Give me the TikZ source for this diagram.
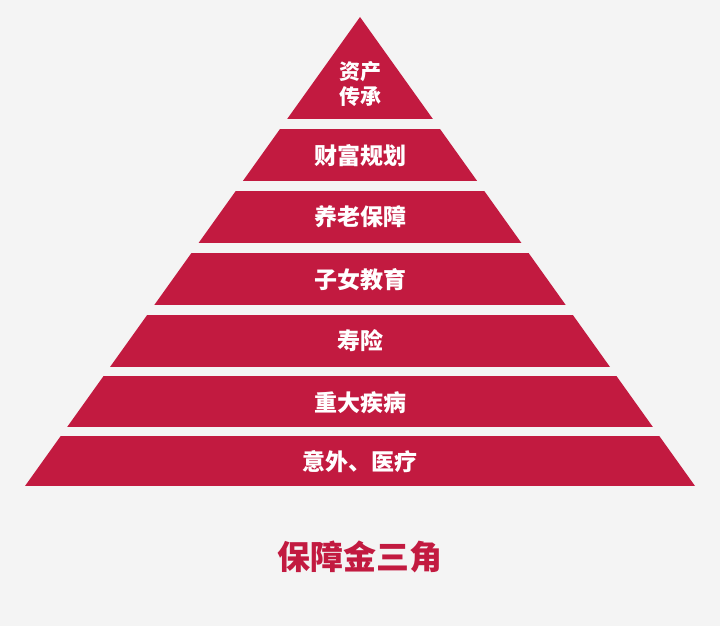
\documentclass[tikz,border=0pt]{standalone}
\usepackage{fontspec}
\setmainfont{Noto Sans CJK SC}
\definecolor{bg}{HTML}{F4F4F4}
\definecolor{pr}{HTML}{C21A40}
\begin{document}
\begin{tikzpicture}[x=1pt,y=-1pt,
  lbl/.style={text=white,font=\fontsize{23}{26}\selectfont\bfseries,inner sep=0pt}]
\fill[bg] (0,0) rectangle (720,626);
\useasboundingbox (0,0) rectangle (720,626);
\begin{scope}
\clip (360,17) -- (695,486) -- (25,486) -- cycle;
\foreach \t/\b in {0/119,129/181,191/243,253/305,315/367,376/427,436/486}
  \fill[pr] (0,\t) rectangle (720,\b);
\end{scope}
\node[lbl,align=center,font=\fontsize{21}{25}\selectfont\bfseries] (l1) at (360,84) {资产\\传承};
\node[lbl] (l2) at (360,156) {财富规划};
\node[lbl] (l3) at (360,217) {养老保障};
\node[lbl] (l4) at (360,280) {子女教育};
\node[lbl] (l5) at (360,341) {寿险};
\node[lbl] (l6) at (360,403) {重大疾病};
\node[lbl] (l7) at (360,462) {意外、医疗};
\node[text=pr,font=\fontsize{33}{36}\selectfont\bfseries,inner sep=0pt] (title) at (360,557) {保障金三角};
\end{tikzpicture}
\end{document}
